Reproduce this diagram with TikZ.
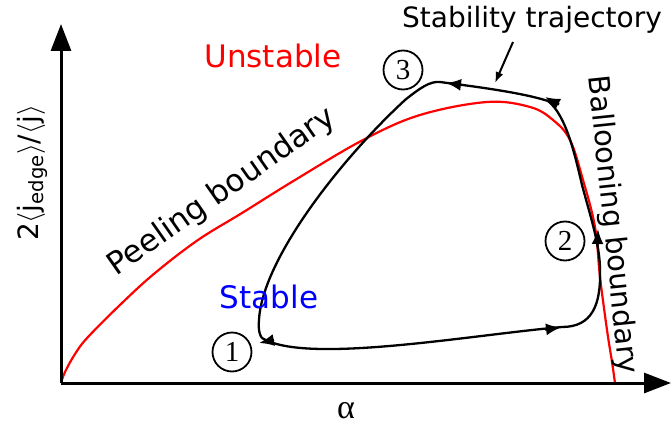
\documentclass[tikz,border=0pt]{standalone}
\usepackage{fix-cm}
\usepackage{fontspec}
\setmainfont{DejaVu Sans}
\newfontfamily\seriff{Liberation Serif}
\usetikzlibrary{arrows.meta}
\begin{document}
\begin{tikzpicture}[x=1pt,y=-1pt,
  axis/.style={line width=3pt, -{Triangle[length=27pt,width=20pt]}},
  boundary/.style={red, line width=2.2pt},
  traj/.style={line width=2.3pt, line join=round},
  tipmark/.style={line width=2.3pt, -{Latex[length=15pt,width=12pt]}},
  lab/.style={font=\fontsize{28}{32}\selectfont},
  region/.style={font=\fontsize{31}{35}\selectfont},
  num/.style={circle, draw, line width=1.8pt, minimum size=39pt, inner sep=0pt,
    font=\seriff\fontsize{29}{32}\selectfont}]
\useasboundingbox (0,0) rectangle (671,425);

% boundary curve
\draw[boundary] plot[smooth, tension=0.6] coordinates {(61,383) (65,372) (75,354) (88,337) (122,303) (155,273) (198,240) (242,213) (295,180) (363,140) (420,115) (487,102) (530,107) (553,120) (570,140) (583,180) (595,227) (600,277) (607,330) (612,362) (615,383)};

% axes
\coordinate (O) at (61,383);
\coordinate (ytop) at (61,24);
\coordinate (xend) at (671,383);
\draw[axis] (O) -- (ytop);
\draw[axis] (O) -- (xend);

% trajectory
\coordinate (p1) at (262,338);
\coordinate (pa) at (562,327);
\coordinate (pb) at (600,270);
\coordinate (pc) at (582,185);
\coordinate (pd) at (548,101);
\coordinate (pe) at (440,82);
\coordinate (pf) at (405,100);
\coordinate (pg) at (259,320);
\draw[traj] (p1) .. controls (305,365) and (470,335) .. (pa)
  .. controls (592,327) and (601,305) .. (pb)
  .. controls (600,245) and (590,215) .. (pc)
  .. controls (575,155) and (566,115) .. (pd)
  .. controls (520,92) and (470,86) .. (pe)
  .. controls (430,81) and (420,88) .. (pf)
  .. controls (340,160) and (262,260) .. (pg)
  .. controls (258,330) and (260,336) .. (p1);

% arrow marks on trajectory
\draw[tipmark] (545,329.5) -- (561,327.5);
\draw[tipmark] (597.5,246) -- (598,229);
\draw[tipmark] (559,104.5) -- (545,97);
\draw[tipmark] (462,85) -- (446,83);
\draw[tipmark] (274,340) -- (259,343);

% circled numbers
\node[num] (n1) at (232,352) {1};
\node[num] (n2) at (565,241) {2};
\node[num] (n3) at (403,70) {3};

% labels
\node[region, text=red, anchor=base] (unst) at (273,68) {Unstable};
\node[region, text=blue, anchor=base] (stab) at (269,308) {Stable};
\node[lab, anchor=base] (st) at (532,28) {Stability trajectory};
\coordinate (stfrom) at (513,42);
\coordinate (stto) at (495,83);
\draw[line width=2pt, -{Latex[length=11pt,width=8pt]}] (stfrom) -- (stto);

\node[font=\fontsize{31}{34}\selectfont, rotate=35] (peel) at (222,192) {Peeling boundary};
\node[font=\fontsize{29}{32}\selectfont, rotate=-84] (ball) at (612,225) {Ballooning boundary};

\node[lab, rotate=90, anchor=base] (ylab) at (38,173) {2$\langle$j\textsubscript{edge}$\rangle$/$\langle$j$\rangle$};
\node[font=\seriff\fontsize{34}{38}\selectfont, anchor=base] (alpha) at (346,418) {α};
\end{tikzpicture}
\end{document}
